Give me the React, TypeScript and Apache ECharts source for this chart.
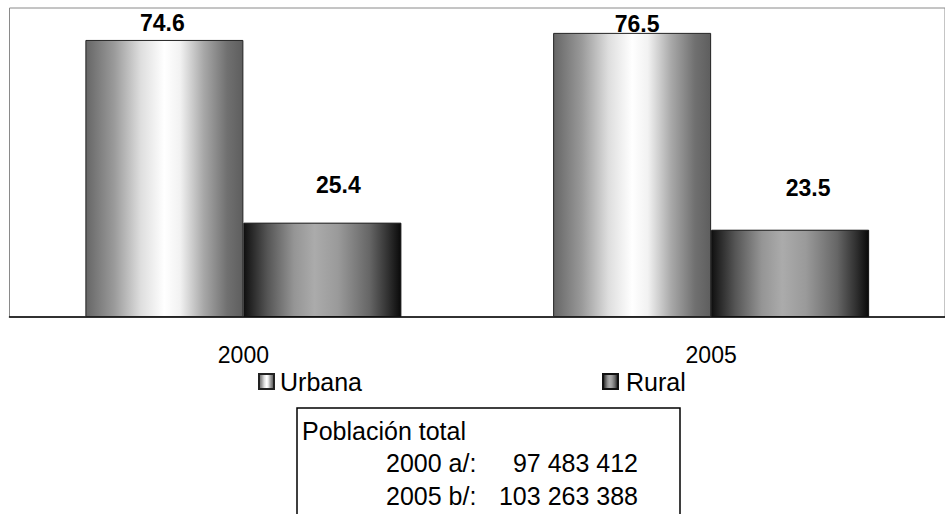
import React, { useEffect, useRef } from "react";
import * as echarts from "echarts";

const categories = ["2000", "2005"];
const urbana = [74.6, 76.5];
const rural = [25.4, 23.5];
const seriesNames = ["Urbana", "Rural"];
const boxTitle = "Población total";
const popLabels = ["2000 a/:", "2005 b/:"];
const popTotals = ["97 483 412", "103 263 388"];

const FONT = "'Liberation Sans', Arial, sans-serif";

export default function App() {
  const ref = useRef<HTMLDivElement>(null);
  useEffect(() => {
    if (!ref.current) return;
    const chart = echarts.init(ref.current, null, { renderer: "svg" });
    const urbGrad = new echarts.graphic.LinearGradient(0, 0, 1, 0, [
      { offset: 0, color: "#666666" },
      { offset: 0.18, color: "#9a9a9a" },
      { offset: 0.35, color: "#dedede" },
      { offset: 0.5, color: "#ffffff" },
      { offset: 0.6, color: "#f2f2f2" },
      { offset: 0.75, color: "#a8a8a8" },
      { offset: 0.9, color: "#707070" },
      { offset: 1, color: "#5e5e5e" },
    ]);
    const rurGrad = new echarts.graphic.LinearGradient(0, 0, 1, 0, [
      { offset: 0, color: "#101010" },
      { offset: 0.15, color: "#555555" },
      { offset: 0.32, color: "#959595" },
      { offset: 0.45, color: "#ababab" },
      { offset: 0.6, color: "#9a9a9a" },
      { offset: 0.8, color: "#666666" },
      { offset: 0.92, color: "#303030" },
      { offset: 1, color: "#0a0a0a" },
    ]);
    const urbNudge = [[-2, 0], [5, 8]];
    const rurNudge = [[16, -21], [18, -25]];
    const labelBase = {
      show: true,
      position: "top" as const,
      fontFamily: FONT,
      fontSize: 23,
      fontWeight: "bold" as const,
      color: "#000",
    };
    const textStyle = (align: string, text: string) => ({
      text,
      fontFamily: FONT,
      fontSize: 25,
      fill: "#000",
      verticalAlign: "middle",
      align,
    });
    chart.setOption({
      animation: false,
      backgroundColor: "#fff",
      grid: {
        left: 9.5,
        top: 8,
        width: 942,
        height: 309,
        show: true,
        borderColor: "#8a8a8a",
        borderWidth: 1,
        backgroundColor: "transparent",
      },
      xAxis: {
        type: "category",
        data: categories,
        axisLine: { show: true, lineStyle: { color: "#000", width: 1.5 } },
        axisTick: { show: false },
        axisLabel: {
          fontFamily: FONT,
          fontSize: 23,
          color: "#000",
          margin: 26,
        },
        splitLine: { show: false },
      },
      yAxis: {
        type: "value",
        min: 0,
        max: 83.2,
        show: false,
        splitLine: { show: false },
      },
      legend: [
        {
          data: [seriesNames[0]],
          left: 258,
          top: 369,
          padding: 0,
          itemWidth: 15,
          itemHeight: 15,
          itemGap: 0,
          icon: "rect",
          textStyle: { fontFamily: FONT, fontSize: 25, color: "#000", padding: [0, 0, 0, 1] },
        },
        {
          data: [seriesNames[1]],
          left: 602,
          top: 369,
          padding: 0,
          itemWidth: 15,
          itemHeight: 15,
          itemGap: 0,
          icon: "rect",
          textStyle: { fontFamily: FONT, fontSize: 25, color: "#000", padding: [0, 0, 0, 3] },
        },
      ],
      series: [
        {
          name: seriesNames[0],
          type: "bar",
          barWidth: 158,
          barGap: "0%",
          itemStyle: { color: urbGrad, borderColor: "#222", borderWidth: 1 },
          data: urbana.map((v, i) => ({
            value: v,
            label: { ...labelBase, offset: urbNudge[i] },
          })),
        },
        {
          name: seriesNames[1],
          type: "bar",
          barWidth: 158,
          barGap: "0%",
          itemStyle: { color: rurGrad, borderColor: "#111", borderWidth: 1 },
          data: rural.map((v, i) => ({
            value: v,
            label: { ...labelBase, offset: rurNudge[i] },
          })),
        },
      ],
      graphic: [
        {
          type: "rect",
          shape: { x: 297, y: 408, width: 383, height: 130 },
          style: { fill: "#fff", stroke: "#000", lineWidth: 1.5 },
          z: 10,
        },
        {
          type: "text",
          x: 302,
          y: 431,
          style: textStyle("left", boxTitle),
          z: 11,
        },
        ...popLabels.map((t, i) => ({
          type: "text",
          x: 386,
          y: 463 + i * 33,
          style: textStyle("left", t),
          z: 11,
        })),
        ...popTotals.map((t, i) => ({
          type: "text",
          x: 638,
          y: 463 + i * 33,
          style: textStyle("right", t),
          z: 11,
        })),
      ],
    });
    return () => chart.dispose();
  }, []);
  return (
    <div
      ref={ref}
      style={{ position: "fixed", left: 0, top: 0, width: 945, height: 514, background: "#fff" }}
    />
  );
}
